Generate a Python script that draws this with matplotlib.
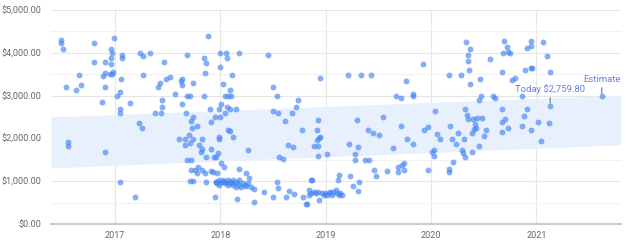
import numpy as np
import matplotlib
matplotlib.use('Agg')
import matplotlib.pyplot as plt
from matplotlib.ticker import FuncFormatter, MultipleLocator

# sale history (decimal year, price in $)
years_a = [2016.49, 2016.49, 2016.51, 2016.53, 2016.555, 2016.555, 2016.63, 2016.66, 2016.68, 2016.80,
	2016.80, 2016.88, 2016.90, 2016.89, 2016.90, 2016.905, 2016.90, 2016.96, 2016.97, 2016.96,
	2016.96, 2016.95, 2016.97, 2016.98, 2016.99, 2017.02, 2017.05, 2017.06, 2017.05, 2017.05,
	2017.07, 2017.07, 2017.05, 2017.14, 2017.19, 2017.23, 2017.26, 2017.24, 2017.27, 2017.27,
	2017.33, 2017.38, 2017.41, 2017.43, 2017.44, 2017.45, 2017.45, 2017.46, 2017.48, 2017.52,
	2017.57, 2017.61, 2017.64, 2017.63, 2017.64, 2017.64, 2017.66, 2017.66, 2017.67, 2017.68,
	2017.68, 2017.70, 2017.71, 2017.68, 2017.71, 2017.72, 2017.72, 2017.73, 2017.74, 2017.74,
	2017.72, 2017.71, 2017.74, 2017.74, 2017.78, 2017.76, 2017.78, 2017.79, 2017.80, 2017.82,
	2017.83, 2017.84, 2017.84, 2017.85, 2017.86, 2017.83, 2017.85, 2017.83, 2017.86, 2017.86,
	2017.88, 2017.90, 2017.91, 2017.91, 2017.91, 2017.93, 2017.94, 2017.95, 2017.95, 2017.96,
	2017.96, 2017.97, 2017.98, 2017.99, 2017.99, 2017.99, 2017.995, 2018.00, 2018.00, 2018.01,
	2018.01, 2018.02, 2018.02, 2018.03, 2018.04, 2018.04, 2018.05, 2018.06, 2018.06, 2018.07,
	2018.07, 2018.09, 2018.09, 2018.09, 2018.10, 2018.11, 2018.12, 2018.15, 2018.18, 2018.18,
	2018.16, 2018.26, 2018.24, 2018.27, 2018.32, 2018.32, 2018.41, 2018.45, 2018.50, 2018.50,
	2018.50, 2018.54, 2018.54, 2018.55, 2018.56, 2018.55, 2018.59, 2018.61, 2018.62, 2018.64,
	2018.65, 2018.68, 2018.69, 2018.70, 2018.72, 2018.74, 2018.77, 2018.78, 2018.81, 2018.86,
	2018.84]
prices_a = [4300, 4240, 4090, 3190, 1920, 1830, 3140, 3490, 3250, 4240,
	3790, 2850, 3520, 3460, 3190, 3790, 1680, 4080, 4000, 3870,
	3750, 3500, 3500, 3550, 4340, 2990, 3080, 3390, 2690, 2590,
	3940, 3890, 990, 2830, 640, 2370, 2240, 4000, 3930, 3490,
	4000, 2590, 3190, 3290, 2590, 2890, 2730, 3790, 3390, 3440,
	3040, 1990, 3390, 3330, 3240, 2800, 1840, 1990, 2590, 3940,
	2990, 2090, 1900, 1490, 2990, 2400, 1490, 2240, 2490, 3290,
	1260, 1000, 1000, 1990, 2280, 1260, 1180, 1340, 1840, 1690,
	1990, 3890, 2990, 3520, 3770, 1760, 1180, 1260, 1570, 970,
	4390, 2690, 2380, 1750, 1240, 1210, 1570, 2490, 640, 990,
	1570, 1180, 1650, 2690, 1990, 2030, 4000, 3670, 2490, 2800,
	1430, 990, 3260, 1320, 2590, 2990, 4000, 3890, 2740, 2990,
	2200, 3120, 2170, 2690, 2990, 3490, 2030, 2690, 1290, 4000,
	590, 1740, 1180, 1080, 820, 510, 750, 3960, 640, 3190,
	2640, 2990, 990, 2590, 1570, 830, 1530, 2410, 640, 1850,
	770, 2590, 1810, 700, 2740, 2890, 2200, 640, 460, 1020,
	790]

# the dense low-price clusters (early 2018 and early 2019)
years_b = [2017.96, 2017.97, 2017.99, 2018.01, 2018.02, 2018.04, 2018.05, 2018.07, 2018.09, 2018.10,
	2018.12, 2018.13, 2018.15, 2018.16, 2018.18, 2018.20, 2018.21, 2018.23, 2018.24, 2018.26,
	2018.29, 2017.99, 2018.07, 2018.12, 2018.18,
	2018.82, 2018.84, 2018.86, 2018.89, 2018.91, 2018.93, 2018.94, 2018.96, 2018.98, 2018.99,
	2019.01, 2019.03, 2019.04, 2019.06, 2019.07, 2019.10, 2019.11, 2019.13, 2019.14, 2019.15,
	2018.87]
prices_b = [990, 950, 1030, 990, 1030, 950, 990, 1030, 950, 990,
	910, 950, 870, 990, 910, 870, 950, 910, 890, 950,
	870, 910, 910, 1030, 1030,
	470, 680, 720, 755, 720, 755, 560, 720, 680, 720,
	680, 720, 755, 680, 755, 790, 720, 680, 720, 680,
	1030]

years_c = [2018.93, 2018.92, 2018.92, 2018.94, 2018.95, 2018.89, 2018.93, 2018.93, 2018.95, 2019.01,
	2019.12, 2019.13, 2019.21, 2019.22, 2019.23, 2019.26, 2019.28, 2019.28, 2019.30, 2019.31,
	2019.31, 2019.32, 2019.33, 2019.37, 2019.40, 2019.41, 2019.43, 2019.45, 2019.46, 2019.48,
	2019.51, 2019.54, 2019.58, 2019.64, 2019.67, 2019.69, 2019.69, 2019.71, 2019.71, 2019.72,
	2019.74, 2019.74, 2019.76, 2019.77, 2019.83, 2019.83, 2019.83, 2019.92, 2019.93, 2019.97,
	2019.97, 2020.01, 2020.03, 2020.03, 2020.04, 2020.06, 2020.08, 2020.17, 2020.17, 2020.17,
	2020.18, 2020.20, 2020.21, 2020.24, 2020.26, 2020.28, 2020.29, 2020.30, 2020.31, 2020.32,
	2020.32, 2020.33, 2020.35, 2020.35, 2020.37, 2020.36, 2020.34, 2020.35, 2020.37, 2020.39,
	2020.40, 2020.39, 2020.42, 2020.43, 2020.41, 2020.44, 2020.45, 2020.45, 2020.46, 2020.47,
	2020.48, 2020.50, 2020.52, 2020.56, 2020.59, 2020.61, 2020.67, 2020.67, 2020.67, 2020.67,
	2020.68, 2020.69, 2020.70, 2020.72, 2020.73, 2020.73, 2020.75, 2020.77, 2020.80, 2020.86,
	2020.86, 2020.88, 2020.89, 2020.91, 2020.91, 2020.95, 2020.95, 2020.95, 2020.95, 2020.96,
	2021.01, 2021.04, 2021.06, 2021.10, 2021.12, 2021.13]
prices_c = [2430, 2200, 1960, 2020, 2040, 1820, 1820, 1590, 3420, 1640,
	1030, 1140, 3490, 1880, 1110, 890, 1630, 1490, 2440, 1800,
	780, 990, 3490, 1490, 2200, 1490, 3490, 2120, 1250, 1130,
	2080, 2490, 1230, 1780, 2990, 1210, 1340, 2290, 2940, 1390,
	1420, 1250, 3350, 1990, 3040, 2990, 1880, 3750, 2200, 2260,
	1260, 1690, 1730, 1600, 2640, 2100, 1990, 1280, 1210, 3490,
	2280, 1990, 1460, 1880, 2130, 3490, 1730, 1670, 1990, 1570,
	2690, 4260, 3820, 3960, 4100, 3600, 2540, 2460, 3270, 2120,
	2460, 1680, 2340, 2250, 2210, 2480, 1820, 2890, 3390, 2980,
	2480, 2060, 2190, 3860, 3000, 2940, 2140, 2380, 2690, 3540,
	4000, 4270, 2460, 4140, 2250, 4030, 4000, 3360, 3400, 2980,
	2290, 2520, 3590, 4120, 2690, 3650, 4160, 4270, 2190, 3650,
	2390, 1950, 4260, 3930, 2350, 3540]

today_year, today_price = 2021.13, 2759.80
estimate_year, estimate_price = 2021.62, 2980

# estimate range band (start / end of the shown period)
band_years = [2016.39, 2021.80]
band_low = [1310, 1850]
band_high = [2500, 3010]

year_ticks = [2017, 2018, 2019, 2020, 2021]

blue = '#4285f4'

fig = plt.figure(figsize=(6.27, 2.44), dpi=100)
ax = fig.add_axes([0.081, 0.082, 0.909, 0.877])

ax.fill_between(band_years, band_low, band_high, color='#e8f0fe', lw=0, zorder=1)

xs = years_a + years_b + years_c + [today_year, estimate_year]
ys = prices_a + prices_b + prices_c + [today_price, estimate_price]
ax.scatter(xs, ys, s=18, color=blue, alpha=0.65, lw=0, zorder=3)

txt_col = '#6b7fe6'
for x, y, label in [(today_year, today_price, 'Today $2,759.80'),
		(estimate_year, estimate_price, 'Estimate')]:
	ax.annotate(label, xy=(x, y), xytext=(0, 12), textcoords='offset points',
		ha='center', va='center', fontsize=6.8, color=txt_col, family='Roboto',
		arrowprops=dict(arrowstyle='-', color='#666666', lw=0.7, shrinkA=0.5, shrinkB=2),
		zorder=4, annotation_clip=False)

ax.set_xlim(band_years[0], band_years[1])
ax.set_ylim(0, 5000)

ax.set_xticks(year_ticks)
ax.set_xticklabels([str(y) for y in year_ticks])
ax.yaxis.set_major_locator(MultipleLocator(1000))
ax.yaxis.set_minor_locator(MultipleLocator(500))
ax.yaxis.set_major_formatter(FuncFormatter(lambda v, p: f'${v:,.2f}'))

ax.grid(True, which='major', color='#e6e6e6', lw=0.8, zorder=0)
ax.grid(True, which='minor', axis='y', color='#f2f2f2', lw=0.8, zorder=0)
ax.set_axisbelow(True)

for s in ['top', 'right', 'left']:
	ax.spines[s].set_visible(False)
ax.spines['bottom'].set_color('#cccccc')
ax.spines['bottom'].set_linewidth(1.5)

ax.tick_params(axis='both', which='both', length=0, labelsize=6.5, labelcolor='#666666')
ax.tick_params(axis='y', pad=7)
ax.tick_params(axis='x', pad=5)
for lab in ax.get_xticklabels() + ax.get_yticklabels():
	lab.set_family('Roboto')

fig.savefig('out.png', dpi=100)
